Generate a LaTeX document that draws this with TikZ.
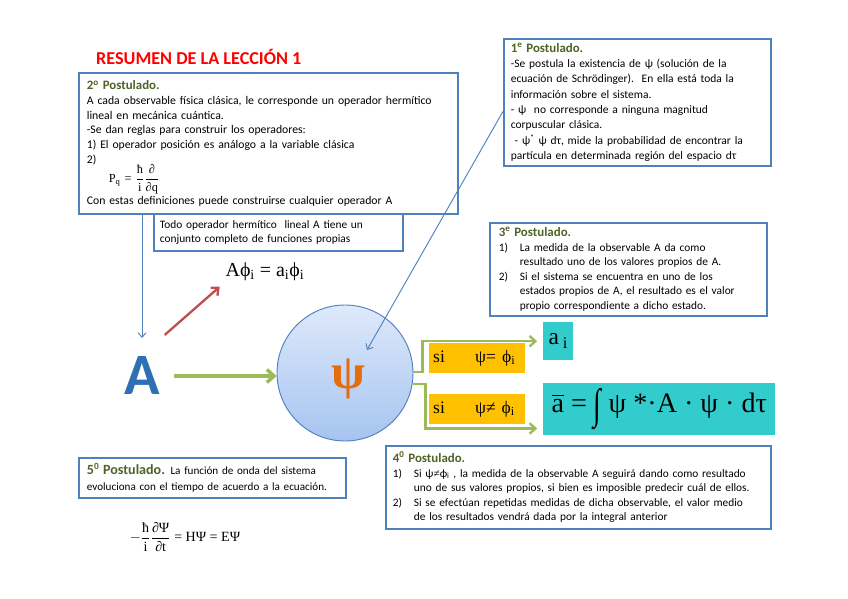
\documentclass[tikz,border=0pt]{standalone}
\usepackage{fontspec}
\usepackage{amsmath}
\usepackage{graphicx}
\setmainfont{Carlito}
\newfontfamily\tnr{Liberation Serif}
\usetikzlibrary{arrows.meta}
\newdimen\px \px=0.03cm
\definecolor{boxblue}{RGB}{79,129,189}
\definecolor{postgreen}{RGB}{79,98,40}
\definecolor{arrgreen}{RGB}{155,187,89}
\definecolor{arrred}{RGB}{192,80,77}
\definecolor{siyellow}{RGB}{255,192,0}
\definecolor{rescyan}{RGB}{51,204,204}
\definecolor{psiorange}{RGB}{228,108,10}
\definecolor{bigblue}{RGB}{46,112,180}
\definecolor{psitop}{RGB}{222,233,251}
\definecolor{psibottom}{RGB}{166,196,240}
\newcommand\posttitle[3][11]{{\fontsize{#1}{13}\selectfont\bfseries\color{postgreen}#2\textsuperscript{#3} Postulado.}}
\newcommand\ind{\hspace*{21\px}}
\newcommand\itm[1]{\makebox[21\px][l]{#1}}

\begin{document}
\begin{tikzpicture}[x=0.03cm, y=-0.03cm,
  postbox/.style={draw=boxblue, line width=1.5pt, fill=white, anchor=north west,
    align=left, inner xsep=7\px, inner ysep=2\px, font=\fontsize{9.7}{12.5}\selectfont},
  thinarrow/.style={-{Straight Barb[length=4pt,width=7pt]}, boxblue, line width=0.8pt},
  greenarrow/.style={-{Straight Barb[length=5pt,width=9pt]}, arrgreen, line width=2pt},
  resbox/.style={fill=rescyan, anchor=north west, inner sep=0pt},
  sibox/.style={fill=siyellow, anchor=north west, inner xsep=4\px, inner ysep=0pt,
    minimum width=96\px, minimum height=30\px, align=left, text width=88\px,
    font=\tnr\fontsize{15}{15}\selectfont}]
\useasboundingbox (0,0) rectangle (848,599);

% title
\node[anchor=west, text=red, font=\fontsize{15.5}{15.5}\selectfont\bfseries] (title) at (92,57)
  {RESUMEN DE LA LECCIÓN 1};

% 2o postulado
\node[postbox, text width=363\px, minimum height=141\px, inner xsep=8\px, font=\fontsize{10}{12.5}\selectfont] (post2) at (78,72) {%
  \posttitle{2}{o}\\
  A cada observable física clásica, le corresponde un operador hermítico\\
  lineal en mecánica cuántica.\\
  -Se dan reglas para construir los operadores:\\
  1) El operador posición es análogo a la variable clásica\\
  2)\\[-1pt]
  \hspace*{22\px}{\tnr\fontsize{10.5}{11}\selectfont P\textsubscript{q} = $\dfrac{\text{ħ}}{\text{i}}\dfrac{\text{∂}}{\text{∂q}}$}\\[1pt]
  Con estas definiciones puede construirse cualquier operador A};

% hermitian operators
\node[postbox, text width=237\px, minimum height=37\px, inner xsep=6\px] (todo) at (153,213) {%
  Todo operador hermítico\ \ lineal A tiene un\\
  conjunto completo de funciones propias};

% 1er postulado
\node[postbox, text width=253\px, minimum height=127\px, font=\fontsize{9.8}{13.1}\selectfont] (post1) at (503,38) {%
  \posttitle{1}{e}\\
  -Se postula la existencia de ψ (solución de la\\
  ecuación de Schrödinger).\ \ En ella está toda la\\
  información sobre el sistema.\\
  - ψ\ \ no corresponde a ninguna magnitud\\
  corpuscular clásica.\\
  \ - ψ\textsuperscript{*} ψ dτ, mide la probabilidad de encontrar la\\
  partícula en determinada región del espacio dτ};

% 3er postulado
\node[postbox, text width=259\px, minimum height=93\px, inner xsep=9\px] (post3) at (489,222) {%
  \posttitle{3}{e}\\
  \itm{1)}La medida de la observable A da como\\
  \ind resultado uno de los valores propios de A.\\
  \itm{2)}Si el sistema se encuentra en uno de los\\
  \ind estados propios de A, el resultado es el valor\\
  \ind propio correspondiente a dicho estado.};

% eigenvalue equation
\node[font=\tnr\fontsize{17}{17}\selectfont] (eig) at (265,272)
  {Aϕ\textsubscript{i} = a\textsubscript{i}ϕ\textsubscript{i}};

% observable A
\node[text=bigblue, font=\fontsize{50}{50}\selectfont\bfseries, inner xsep=1pt, inner ysep=16pt] (bigA) at (142,376) {A};

% wave function
\node[circle, draw=boxblue, line width=0.8pt, minimum size=136\px, inner sep=0pt,
  top color=psitop, bottom color=psibottom] (psi) at (345,373) {};
\node[text=psiorange, font=\tnr\bfseries\fontsize{42}{42}\selectfont] (psisym) at (348,379) {ψ};

% measurement results
\node[sibox] (sieq) at (429,343) {\makebox[42\px][l]{si}ψ= ϕ\textsubscript{i}};
\node[sibox] (sineq) at (429,394) {\makebox[42\px][l]{si}ψ≠ ϕ\textsubscript{i}};
\node[resbox, minimum width=30\px, minimum height=38\px, font=\tnr\fontsize{20}{20}\selectfont] (ai) at (543,322)
  {\raisebox{-3pt}{a\,\textsubscript{i}}};
\node[resbox, minimum width=232\px, minimum height=52\px, font=\tnr\fontsize{24}{24}\selectfont] (abar) at (543,383)
  {$\overline{\text{a}}$ = \raisebox{-5pt}{\scalebox{1}[1.5]{∫}} ψ *·A · ψ · dτ};

% 4o postulado
\node[postbox, text width=371\px, minimum height=83\px] (post4) at (385,445) {%
  \posttitle{4}{0}\\
  \itm{1)}Si ψ{\tnr ≠}ϕ\textsubscript{i} , la medida de la observable A seguirá dando como resultado\\
  \ind uno de sus valores propios, si bien es imposible predecir cuál de ellos.\\
  \itm{2)}Si se efectúan repetidas medidas de dicha observable, el valor medio\\
  \ind de los resultados vendrá dada por la integral anterior};

% 5o postulado
\node[postbox, text width=251\px, minimum height=40\px, inner xsep=8\px, font=\fontsize{9.5}{14}\selectfont] (post5) at (78,457) {%
  \posttitle[12]{5}{0} La función de onda del sistema\\
  evoluciona con el tiempo de acuerdo a la ecuación.};
\node[font=\tnr\fontsize{12}{12}\selectfont] (schro) at (185,537)
  {$-\dfrac{\text{ħ}}{\text{i}}\dfrac{\text{∂Ψ}}{\text{∂t}}$ = HΨ = EΨ};

% connectors
\coordinate (psitip) at (367,350);
\draw[thinarrow] (post2.south -| bigA.north) -- (bigA.north);
\draw[thinarrow] ([yshift=-9\px]post1.west) -- (psitip);
\draw[-{Straight Barb[length=5pt,width=9pt]}, arrred, line width=2pt, shorten <=4pt, shorten >=2pt]
  (bigA.north east) -- (eig.south west);
\draw[-{Straight Barb[length=6pt,width=11pt]}, arrgreen, line width=3pt, shorten <=11pt]
  (bigA.east) -- (bigA.east -| psi.west);
\draw[greenarrow, shorten >=5pt] (psi.1) -- ++(9,0) |- (ai.west);
\draw[greenarrow, shorten >=5pt] (psi.-9) -- ++(13,0) |- ([yshift=7\px]abar.south west);
\end{tikzpicture}
\end{document}
